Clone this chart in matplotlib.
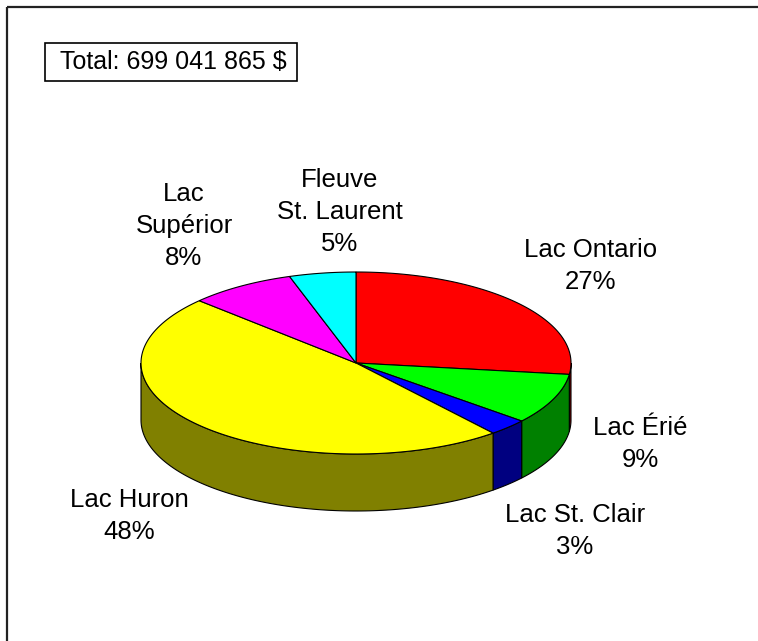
import numpy as np
import matplotlib
matplotlib.use("Agg")
import matplotlib.pyplot as plt
from matplotlib.patches import Polygon, Rectangle

# ---- data ----
labels = ["Lac Ontario", "Lac Érié", "Lac St. Clair", "Lac Huron",
          "Lac\nSupérior", "Fleuve\nSt. Laurent"]
values = [27, 9, 3, 48, 8, 5]
top_colors = ["#FF0000", "#00FF00", "#0000FF", "#FFFF00", "#FF00FF", "#00FFFF"]
side_colors = ["#800000", "#008000", "#000080", "#808000", "#800080", "#008080"]
total_label = "Total: 699 041 865 $"

# ---- layout ----
label_pos = [(591, 266), (640, 444), (575, 531), (129, 516), (184, 226), (340, 212)]
W, H = 758, 641
cx, cy, a, b, depth = 356, 363, 215, 91, 57
FONT = "Liberation Sans"
FS = 18.5

fig = plt.figure(figsize=(W / 100, H / 100), dpi=100)
ax = fig.add_axes([0, 0, 1, 1])
ax.set_xlim(0, W)
ax.set_ylim(H, 0)
ax.axis("off")


def arc(t0, t1, dy=0.0, n=120):
    t = np.radians(np.linspace(t0, t1, n))
    return np.column_stack([cx + a * np.cos(t), cy - b * np.sin(t) + dy])


vals = np.array(values, dtype=float)
fr = vals / vals.sum()
starts = 90 - 360 * np.concatenate([[0], np.cumsum(fr)[:-1]])
ends = starts - 360 * fr

# side walls (front half: angles between -180 and 0)
for s, e, sc in zip(starts, ends, side_colors):
    lo, hi = max(e, -180), min(s, 0)
    if hi > lo:
        top = arc(hi, lo)
        bot = arc(lo, hi, dy=depth)
        ax.add_patch(Polygon(np.vstack([top, bot]), closed=True, facecolor=sc,
                             edgecolor="black", linewidth=0.8, zorder=2))

# top faces
for s, e, tc in zip(starts, ends, top_colors):
    pts = np.vstack([[cx, cy], arc(s, e)])
    ax.add_patch(Polygon(pts, closed=True, facecolor=tc, edgecolor="black",
                         linewidth=0.8, zorder=3))

# labels
for lab, v, (lx, ly) in zip(labels, fr, label_pos):
    ax.text(lx, ly, f"{lab}\n{round(v * 100):.0f}%", ha="center", va="center",
            family=FONT, fontsize=FS, linespacing=1.43, color="black", zorder=5)

# total box
ax.add_patch(Rectangle((45, 43), 252, 38, facecolor="white", edgecolor="black",
                       linewidth=1.2, zorder=4))
ax.text(60, 62, total_label, ha="left", va="center", family=FONT, fontsize=18,
        color="black", zorder=5)

# frame (top and left)
ax.plot([7, W], [7, 7], color="#222222", linewidth=1.6, zorder=6, solid_capstyle="butt")
ax.plot([7, 7], [7, H], color="#222222", linewidth=1.6, zorder=6, solid_capstyle="butt")

fig.savefig("out.png", dpi=100)
